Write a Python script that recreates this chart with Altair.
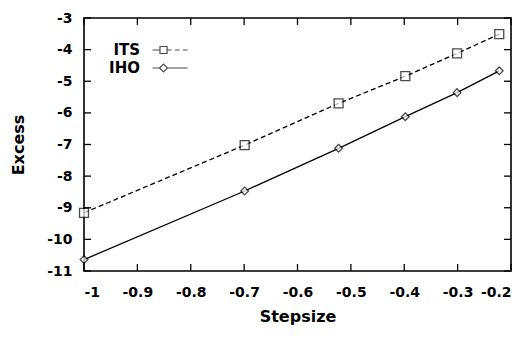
import altair as alt
import pandas as pd

# ---- data ----
steps = [-1.0, -0.699, -0.523, -0.398, -0.301, -0.222]
its = [-9.16, -7.02, -5.70, -4.84, -4.12, -3.51]
iho = [-10.64, -8.47, -7.12, -6.12, -5.36, -4.67]
series_names = ["ITS", "IHO"]
x_ticks = [-1, -0.9, -0.8, -0.7, -0.6, -0.5, -0.4, -0.3, -0.2]
y_ticks = [-11, -10, -9, -8, -7, -6, -5, -4, -3]

rows = []
for name, vals in zip(series_names, [its, iho]):
    for sx, sy in zip(steps, vals):
        rows.append({"series": name, "x": sx, "y": sy})
df = pd.DataFrame(rows)
xt = pd.DataFrame({"t": x_ticks})
yt = pd.DataFrame({"t": y_ticks})

W, H = 427, 253
FONT = "DejaVu Sans"
TICK = 7

xs = alt.Scale(domain=[-1, -0.2], nice=False, zero=False)
ys = alt.Scale(domain=[-11, -3], nice=False, zero=False)

x_axis = alt.Axis(orient="bottom", values=x_ticks, labelExpr="datum.value + ''",
                  ticks=False, domain=False, grid=False, labelOverlap=False,
                  labelPadding=14, labelFont=FONT, labelFontSize=14,
                  labelFontWeight="bold", labelColor="black",
                  title="Stepsize", titleFont=FONT, titleFontSize=16,
                  titleFontWeight="bold", titleColor="black", titlePadding=9)
y_axis = alt.Axis(orient="left", values=y_ticks, labelExpr="datum.value + ''",
                  ticks=False, domain=False, grid=False, labelOverlap=False,
                  labelPadding=12, labelFont=FONT, labelFontSize=14,
                  labelFontWeight="bold", labelColor="black",
                  title="Excess", titleFont=FONT, titleFontSize=16,
                  titleFontWeight="bold", titleColor="black", titlePadding=20)

base = alt.Chart(df)

line_its = base.transform_filter("datum.series == 'ITS'").mark_line(
    color="black", strokeWidth=1.3, strokeDash=[5, 3]
).encode(x=alt.X("x:Q", scale=xs, axis=x_axis),
         y=alt.Y("y:Q", scale=ys, axis=y_axis))

line_iho = base.transform_filter("datum.series == 'IHO'").mark_line(
    color="black", strokeWidth=1.3
).encode(x=alt.X("x:Q", scale=xs, axis=None), y=alt.Y("y:Q", scale=ys, axis=None))

pt_its = base.transform_filter("datum.series == 'ITS'").mark_point(
    shape="square", size=80, color="black", fill="white", filled=True,
    stroke="black", strokeWidth=1.3
).encode(x=alt.X("x:Q", axis=None), y=alt.Y("y:Q", axis=None))

pt_iho = base.transform_filter("datum.series == 'IHO'").mark_point(
    shape="diamond", size=60, color="black", fill="white", filled=True,
    stroke="black", strokeWidth=1.3
).encode(x=alt.X("x:Q", axis=None), y=alt.Y("y:Q", axis=None))

# inward tick stubs on all four sides, drawn as short rules at the tick values
rule_style = dict(color="black", strokeWidth=1.3)
top_ticks = alt.Chart(xt).mark_rule(**rule_style).encode(
    x=alt.X("t:Q", scale=xs, axis=None),
    y=alt.value(0), y2=alt.value(TICK))
bot_ticks = alt.Chart(xt).mark_rule(**rule_style).encode(
    x=alt.X("t:Q", scale=xs, axis=None),
    y=alt.value(H - TICK), y2=alt.value(H))
left_ticks = alt.Chart(yt).mark_rule(**rule_style).encode(
    y=alt.Y("t:Q", scale=ys, axis=None),
    x=alt.value(0), x2=alt.value(TICK))
right_ticks = alt.Chart(yt).mark_rule(**rule_style).encode(
    y=alt.Y("t:Q", scale=ys, axis=None),
    x=alt.value(W - TICK), x2=alt.value(W))

# legend sample symbols: line + marker, drawn to the right of the label
its_path = ("M2.59,0H3.47M3.47,-0.41H4.30V0.41H3.47Z"
            "M4.30,0H4.83M5.24,0H5.77M6.18,0H6.71")
iho_path = ("M2.59,0H3.415M3.415,0L3.885,-0.47L4.355,0L3.885,0.47Z"
            "M4.355,0H6.71")

legend_layer = base.transform_filter("datum.x > 10").mark_point(
    color="black", filled=False
).encode(
    x=alt.X("x:Q", axis=None), y=alt.Y("y:Q", axis=None),
    shape=alt.Shape("series:N",
                    scale=alt.Scale(domain=series_names, range=[its_path, iho_path]),
                    legend=alt.Legend(title=None, orient="none", legendX=37,
                                      legendY=22.5, symbolSize=289,
                                      symbolStrokeWidth=1.2,
                                      symbolStrokeColor="black",
                                      labelAlign="right", labelOffset=0,
                                      labelFont=FONT, labelFontSize=15,
                                      labelFontWeight="bold", labelColor="black",
                                      rowPadding=0, padding=0)),
)

chart = alt.layer(
    line_its, line_iho, pt_its, pt_iho,
    top_ticks, bot_ticks, left_ticks, right_ticks, legend_layer
).resolve_axis(x="independent", y="independent").properties(
    width=W, height=H,
    autosize=alt.AutoSizeParams(type="none"),
    padding={"left": 84, "top": 18, "right": 18, "bottom": 70},
    background="white",
).configure_view(stroke="black", strokeWidth=1.6)

chart.save("out.html", embed_options={"renderer": "svg", "actions": False})
